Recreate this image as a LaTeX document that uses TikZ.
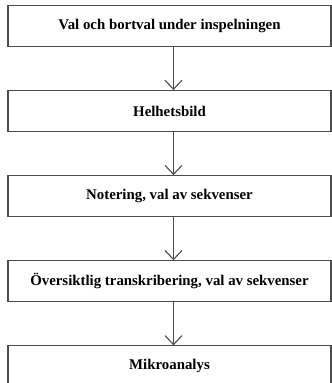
\documentclass[tikz,border=0pt]{standalone}
\usepackage{fontspec}
\setmainfont{Liberation Serif}
\usetikzlibrary{positioning,arrows.meta}
\begin{document}
\begin{tikzpicture}[x=1bp,y=1bp,
    stagebox/.style={draw=black!70, line width=1.1bp, minimum width=323bp,
      minimum height=41bp, inner sep=0pt, font=\bfseries\fontsize{14.9}{16}\selectfont},
    flow/.style={draw=black!70, line width=1.1bp,
      -{Straight Barb[length=9bp,width=17bp,line width=1.1bp]}},
    node distance=43bp]
    \useasboundingbox (0,0) rectangle (332,383);
    \node[stagebox] (val) at (169.5,357) {Val och bortval under inspelningen};
    \node[stagebox, below=of val] (helhet) {Helhetsbild};
    \node[stagebox, below=of helhet] (notering) {Notering, val av sekvenser};
    \node[stagebox, below=of notering] (oversikt) {Översiktlig transkribering, val av sekvenser};
    \node[stagebox, below=of oversikt] (mikro) {Mikroanalys};
    % pilar mellan stegen
    \draw[flow] ([xshift=4bp]val.south) -- ([xshift=4bp]helhet.north);
    \draw[flow] ([xshift=4bp]helhet.south) -- ([xshift=4bp]notering.north);
    \draw[flow] ([xshift=4bp]notering.south) -- ([xshift=4bp]oversikt.north);
    \draw[flow] ([xshift=4bp]oversikt.south) -- ([xshift=4bp]mikro.north);
  \end{tikzpicture}
\end{document}
